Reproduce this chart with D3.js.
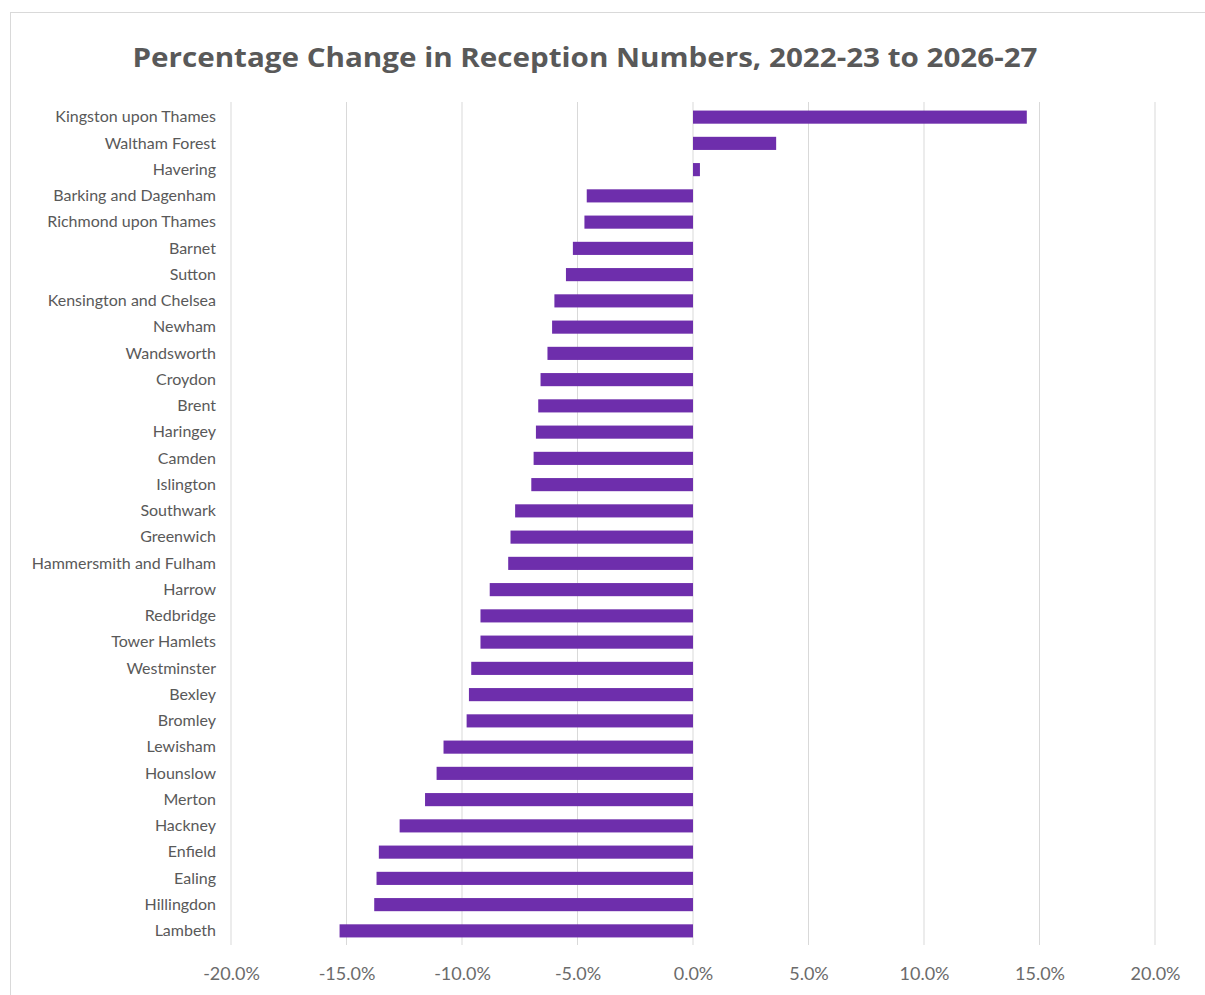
<!DOCTYPE html>
<html><head><meta charset="utf-8">
<script src="https://cdn.jsdelivr.net/npm/d3@7"></script>
<style>body{margin:0;background:#fff}</style>
</head><body>
<script>
const categories = ["Kingston upon Thames","Waltham Forest","Havering","Barking and Dagenham","Richmond upon Thames","Barnet","Sutton","Kensington and Chelsea","Newham","Wandsworth","Croydon","Brent","Haringey","Camden","Islington","Southwark","Greenwich","Hammersmith and Fulham","Harrow","Redbridge","Tower Hamlets","Westminster","Bexley","Bromley","Lewisham","Hounslow","Merton","Hackney","Enfield","Ealing","Hillingdon","Lambeth"];
const values = [0.1445,0.036,0.003,-0.046,-0.047,-0.052,-0.055,-0.060,-0.061,-0.063,-0.066,-0.067,-0.068,-0.069,-0.070,-0.077,-0.079,-0.080,-0.088,-0.092,-0.092,-0.096,-0.097,-0.098,-0.108,-0.111,-0.116,-0.127,-0.136,-0.137,-0.138,-0.153];
const tickValues = [-0.2,-0.15,-0.1,-0.05,0,0.05,0.1,0.15,0.2];
const tickLabels = ["-20.0%","-15.0%","-10.0%","-5.0%","0.0%","5.0%","10.0%","15.0%","20.0%"];
const title = "Percentage Change in Reception Numbers, 2022-23 to 2026-27";

const W=1205,H=995;
const svg=d3.select("body").append("svg").attr("width",W).attr("height",H);
svg.append("rect").attr("x",10.5).attr("y",12.5).attr("width",1200).attr("height",1000)
  .attr("fill","#fff").attr("stroke","#d9d9d9");

const x=d3.scaleLinear().domain([-0.2,0.2]).range([231,1155]);
const y=d3.scaleBand().domain(categories).range([104,944]).paddingInner(0.5).paddingOuter(0.25);

// gridlines
svg.append("g").selectAll("line").data(tickValues).join("line")
  .attr("x1",d=>x(d)).attr("x2",d=>x(d)).attr("y1",102).attr("y2",945)
  .attr("stroke","#d9d9d9").attr("stroke-width",1);

// bars
svg.append("g").selectAll("rect").data(values).join("rect")
  .attr("x",d=>x(Math.min(0,d)))
  .attr("width",d=>Math.abs(x(d)-x(0)))
  .attr("y",(d,i)=>y(categories[i]))
  .attr("height",y.bandwidth())
  .attr("fill","#6e2eac");

// x axis
const xa=svg.append("g").attr("transform","translate(0,945)")
  .call(d3.axisBottom(x).tickValues(tickValues).tickFormat((d,i)=>tickLabels[i]).tickSize(0).tickPadding(22));
xa.select(".domain").remove();
xa.selectAll("text").attr("font-family","Lato, 'Open Sans', sans-serif").attr("font-size",18).attr("fill","#6b6b6b");

// y axis labels
const ya=svg.append("g").attr("transform","translate(216,0)")
  .call(d3.axisLeft(y).tickSize(0).tickPadding(0));
ya.select(".domain").remove();
ya.selectAll("text").attr("font-family","Lato, 'Open Sans', sans-serif").attr("font-size",16).attr("fill","#595959");

// title
svg.append("text").attr("x",585).attr("y",67).attr("text-anchor","middle")
  .attr("font-family","'Open Sans', Lato, sans-serif").attr("font-weight","bold").attr("font-size",26)
  .attr("fill","#595959").attr("textLength",905).attr("lengthAdjust","spacingAndGlyphs").text(title);
</script>
</body></html>
